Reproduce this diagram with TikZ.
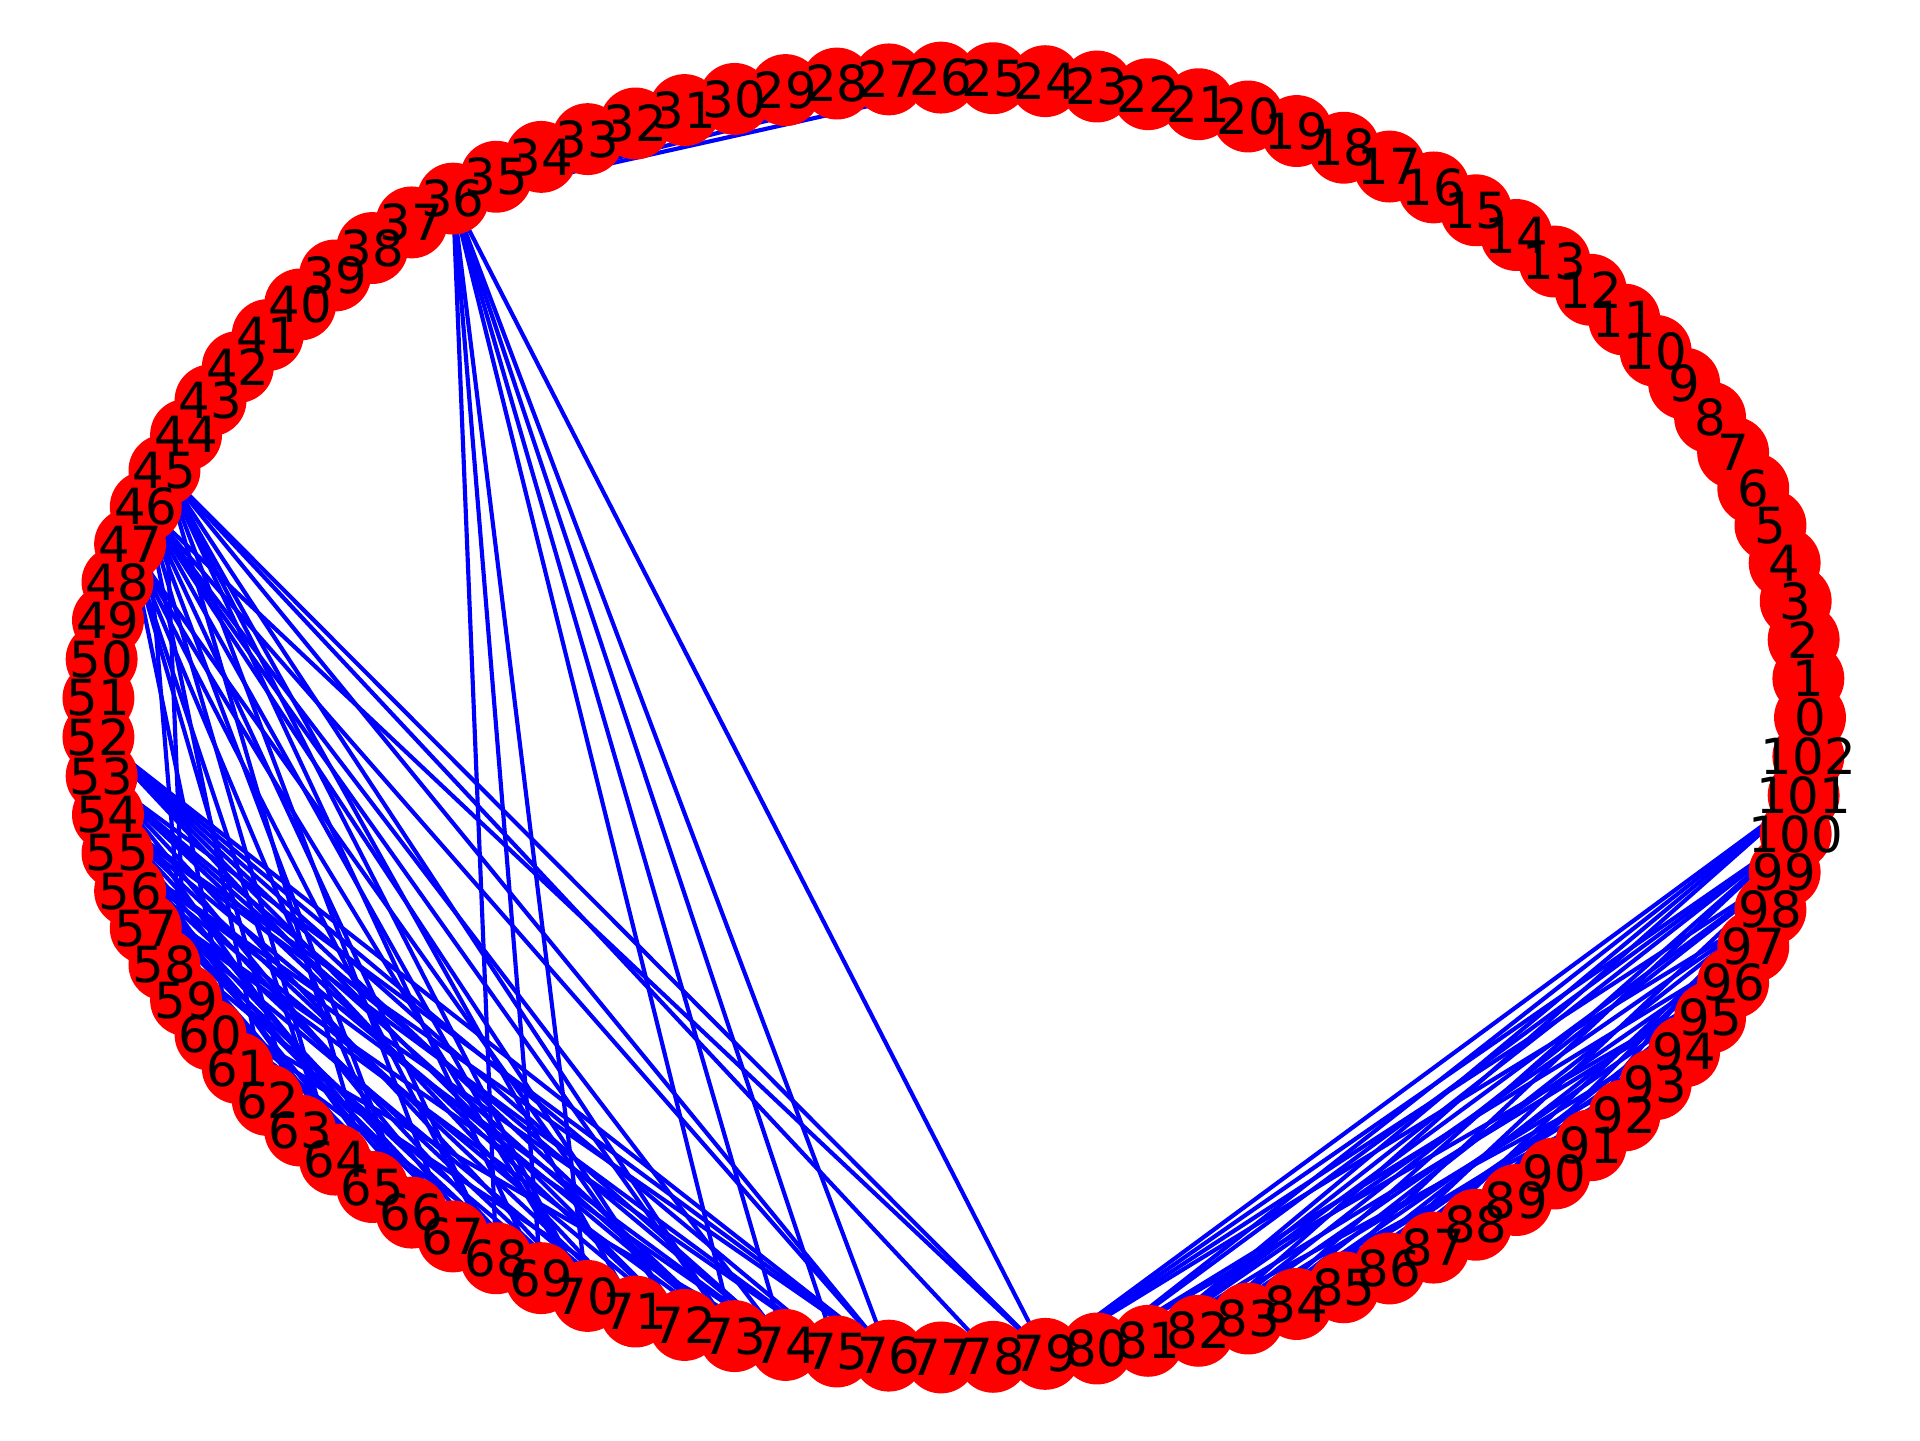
\documentclass[tikz,border=0pt]{standalone}
\usepackage{fontspec}
\setmainfont{DejaVu Sans}
\begin{document}
\begin{tikzpicture}[
        x=0.2409pt, y=-0.2409pt,
        vertex/.style={circle, fill=red, inner sep=0pt, minimum size=17.32pt},
        vlabel/.style={inner sep=0pt, font=\fontsize{12}{12}\selectfont, text=black},
        edge/.style={blue, line width=1pt}
    ]
    \useasboundingbox (0,0) rectangle (1920,1440);

    % --- circular layout ---
    \foreach \i in {0,...,102}
        \coordinate (p\i) at ({954+856*cos(\i*3.4951456)}, {717.5-640*sin(\i*3.4951456)});

    % --- edges ---
    \foreach \a/\b in {36/25, 36/26, 36/68, 36/69, 36/70, 36/73, 36/74, 36/75, 36/76, 36/79,
                       45/59, 45/65, 45/67, 45/69, 45/70, 45/71, 45/73, 45/76, 45/78, 45/79,
                       46/59, 46/62, 46/64, 46/66, 46/68, 46/70, 46/72, 46/73, 46/74, 46/76, 46/79,
                       47/61, 47/63, 47/64, 47/66, 47/68, 47/70, 47/72,
                       52/76, 52/75, 52/74, 52/73, 52/72, 52/71,
                       53/76, 53/74, 53/73, 53/72, 53/70, 53/68, 53/66,
                       54/76, 54/75, 54/73, 54/71, 54/69, 54/67, 54/65,
                       55/75, 55/74, 55/72, 55/70, 55/68, 55/67, 55/66, 55/64,
                       56/74, 56/73, 56/71, 56/69, 56/68, 56/66, 56/65, 56/63,
                       57/70, 57/67, 57/64, 58/66, 59/74, 59/72, 59/70,
                       79/101, 79/100, 79/99, 79/98,
                       80/101, 80/100, 80/97, 80/96,
                       81/101, 81/100, 81/99, 81/98, 81/96, 81/94,
                       82/101, 82/99, 82/97, 82/95, 82/93,
                       83/100, 83/98, 83/96, 83/94, 84/100, 84/97, 84/95,
                       85/99, 85/96, 85/93, 86/98, 86/95, 87/98, 87/95, 87/93,
                       88/97, 88/94, 89/99, 89/96}
        \draw[edge] (p\a) -- (p\b);

    % --- vertices ---
    \foreach \i in {0,...,102}
        \node[vertex] (n\i) at (p\i) {};
    \foreach \i in {0,...,102}
        \node[vlabel] (l\i) at (p\i) {\i};

\end{tikzpicture}
\end{document}
